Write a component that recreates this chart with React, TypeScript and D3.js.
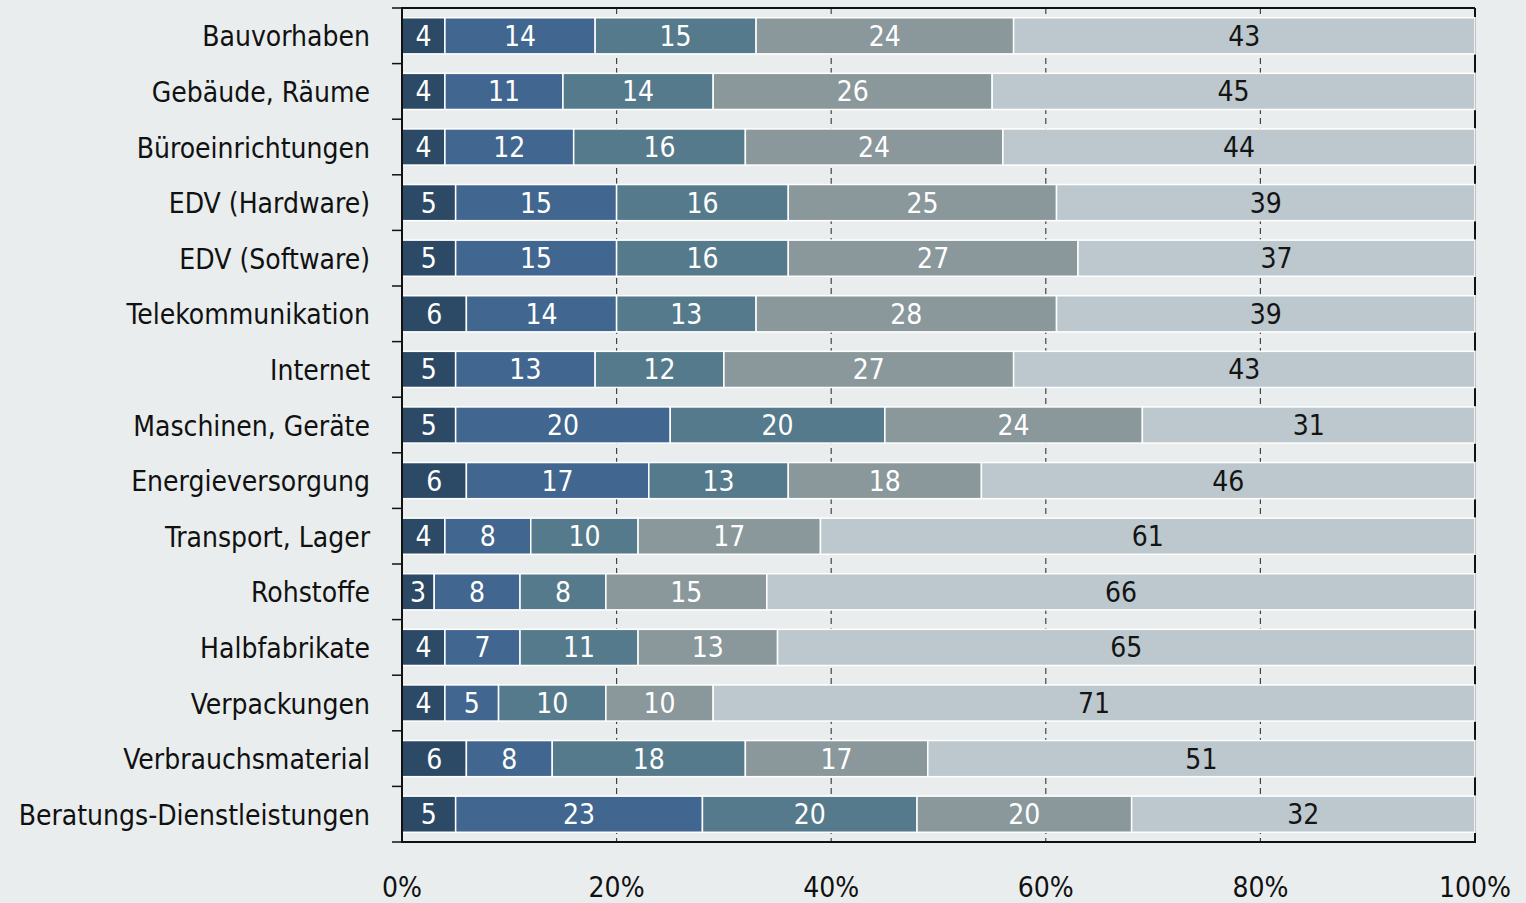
import React from "react";
import * as d3 from "d3";

const categories = [
  "Bauvorhaben",
  "Gebäude, Räume",
  "Büroeinrichtungen",
  "EDV (Hardware)",
  "EDV (Software)",
  "Telekommunikation",
  "Internet",
  "Maschinen, Geräte",
  "Energieversorgung",
  "Transport, Lager",
  "Rohstoffe",
  "Halbfabrikate",
  "Verpackungen",
  "Verbrauchsmaterial",
  "Beratungs-Dienstleistungen",
];

const series1 = [4, 4, 4, 5, 5, 6, 5, 5, 6, 4, 3, 4, 4, 6, 5];
const series2 = [14, 11, 12, 15, 15, 14, 13, 20, 17, 8, 8, 7, 5, 8, 23];
const series3 = [15, 14, 16, 16, 16, 13, 12, 20, 13, 10, 8, 11, 10, 18, 20];
const series4 = [24, 26, 24, 25, 27, 28, 27, 24, 18, 17, 15, 13, 10, 17, 20];
const series5 = [43, 45, 44, 39, 37, 39, 43, 31, 46, 61, 66, 65, 71, 51, 32];

const xTicks = [0, 20, 40, 60, 80, 100];

const seriesList = [series1, series2, series3, series4, series5];
const colors = ["#2c4965", "#41668f", "#557a8b", "#8a979b", "#bcc8cd"];
const textColors = ["#ffffff", "#ffffff", "#ffffff", "#ffffff", "#141414"];

const W = 1526;
const H = 903;
const left = 402;
const right = 1475;
const top = 8;
const bottom = 842;
const FONT = "'DejaVu Sans Condensed', 'DejaVu Sans', sans-serif";
const FS = 28;

export default function App() {
  const x = d3.scaleLinear().domain([0, 100]).range([left, right]);
  const y = d3
    .scaleBand<string>()
    .domain(categories)
    .range([top, bottom])
    .paddingInner(0.35)
    .paddingOuter(0.175);
  const step = y.step();

  const rows = categories.map((c, i) => {
    let acc = 0;
    const segs = seriesList.map((s, k) => {
      const v = s[i];
      const seg = { k, v, x0: acc, x1: acc + v };
      acc += v;
      return seg;
    });
    return { c, segs };
  });

  const boundaries = d3.range(categories.length + 1).map((i) => top + i * step);

  return (
    <svg
      width={W}
      height={H}
      style={{ position: "absolute", left: 0, top: 0, display: "block" }}
      fontFamily={FONT}
    >
      <rect x={0} y={0} width={W} height={H} fill="#e9edee" />
      {xTicks
        .filter((t) => t > 0 && t < 100)
        .map((t) => (
          <line
            key={t}
            x1={x(t)}
            x2={x(t)}
            y1={top}
            y2={bottom}
            stroke="#444"
            strokeWidth={1.2}
            strokeDasharray="6 4"
          />
        ))}
      <line x1={right} x2={right} y1={top} y2={bottom} stroke="#111" strokeWidth={2} />
      {rows.map((r) => {
        const by = y(r.c)!;
        const bh = y.bandwidth();
        return (
          <g key={r.c}>
            {r.segs.map((s) => (
              <rect
                key={s.k}
                x={x(s.x0)}
                y={by}
                width={x(s.x1) - x(s.x0)}
                height={bh}
                fill={colors[s.k]}
                stroke="#ffffff"
                strokeWidth={1.5}
              />
            ))}
            {r.segs.map((s) => (
              <text
                key={"t" + s.k}
                x={(x(s.x0) + x(s.x1)) / 2}
                y={by + bh / 2 + 10}
                textAnchor="middle"
                fontSize={FS}
                fill={textColors[s.k]}
              >
                {s.v}
              </text>
            ))}
            <text
              x={370}
              y={by + bh / 2 + 10.5}
              textAnchor="end"
              fontSize={FS}
              fill="#111"
            >
              {r.c}
            </text>
          </g>
        );
      })}
      <line x1={left} x2={right} y1={top} y2={top} stroke="#111" strokeWidth={2} />
      <line x1={left} x2={right + 1} y1={bottom} y2={bottom} stroke="#111" strokeWidth={2} />
      <line x1={left} x2={left} y1={top - 1} y2={bottom + 1} stroke="#111" strokeWidth={2} />
      {boundaries.map((b, i) => (
        <line key={i} x1={392} x2={left} y1={b} y2={b} stroke="#111" strokeWidth={1.5} />
      ))}
      {xTicks.map((t) => (
        <text key={t} x={x(t)} y={897} textAnchor="middle" fontSize={FS} fill="#111">
          {t + "%"}
        </text>
      ))}
    </svg>
  );
}
